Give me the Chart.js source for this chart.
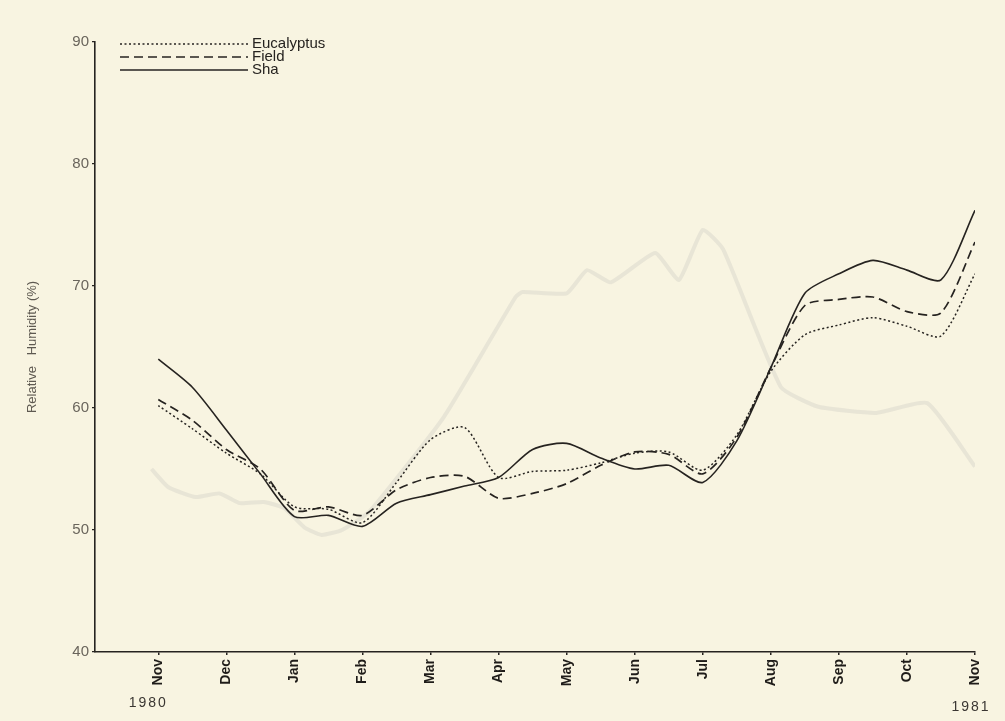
<!DOCTYPE html>
<html>
<head>
<meta charset="utf-8">
<script src="https://cdn.jsdelivr.net/npm/chart.js@4.4.1/dist/chart.umd.min.js"></script>
<style>
  html, body { margin: 0; padding: 0; background: #f8f4e1; }
  #wrap { width: 1005px; height: 721px; }
</style>
</head>
<body>
<div id="wrap"><canvas id="rh" width="1005" height="721"></canvas></div>
<script>
// Month ticks, Nov 1980 .. Nov 1981 (tick value = month index)
const monthLabels = ['Nov', 'Dec', 'Jan', 'Feb', 'Mar', 'Apr', 'May', 'Jun', 'Jul', 'Aug', 'Sep', 'Oct', 'Nov'];
const yearLabels = ['1980', '1981'];
const yTicks = [40, 50, 60, 70, 80, 90];

// Fortnightly readings (month index)
const sampleMonths = [0, 0.5, 1, 1.5, 2, 2.5, 3, 3.5, 4, 4.5, 5, 5.5, 6, 6.5, 7, 7.5, 8, 8.5, 9, 9.5, 10, 10.5, 11, 11.5, 12];

// Relative humidity (%)
const eucalyptus = [60.2, 58.3, 56.3, 54.6, 51.9, 51.7, 50.6, 53.9, 57.4, 58.4, 54.3, 54.8, 54.9, 55.5, 56.3, 56.4, 54.9, 57.8, 63.0, 66.0, 66.8, 67.4, 66.7, 65.9, 71.0];
const field      = [60.7, 59.0, 56.6, 55.0, 51.6, 51.9, 51.2, 53.3, 54.3, 54.4, 52.6, 53.0, 53.8, 55.3, 56.4, 56.2, 54.6, 57.6, 63.3, 68.4, 68.9, 69.1, 67.9, 67.8, 73.6];
const shade      = [64.0, 61.7, 58.2, 54.6, 51.1, 51.2, 50.3, 52.2, 52.9, 53.6, 54.3, 56.6, 57.1, 55.9, 55.0, 55.3, 53.9, 57.3, 63.3, 69.4, 71.0, 72.1, 71.3, 70.5, 76.2];

// Faint trace printed through from the other side of the sheet
const traceMonths = [-0.1, 0.15, 0.55, 0.9, 1.2, 1.55, 1.85, 2.15, 2.4, 2.7, 3.1, 4.2, 5.25, 5.35, 6, 6.3, 6.65, 7.3, 7.65, 8, 8.3, 9.15, 9.7, 10.55, 11.3, 12];
const traceValues = [55.0, 53.5, 52.7, 53.0, 52.2, 52.3, 51.8, 50.2, 49.6, 50.0, 51.5, 59.3, 69.1, 69.5, 69.4, 71.3, 70.3, 72.7, 70.5, 74.6, 73.0, 61.7, 60.1, 59.6, 60.4, 55.2];

const ink = '#262320';
const paper = '#f8f4e1';
const pair = (xs, ys) => xs.map((x, i) => ({ x: x, y: ys[i] }));

// Paper background
const paperPlugin = {
  id: 'paper',
  beforeDraw(chart) {
    const { ctx, width, height } = chart;
    ctx.save();
    ctx.fillStyle = paper;
    ctx.fillRect(0, 0, width, height);
    ctx.restore();
  }
};

// Stacked key in the upper-left corner of the plot
const keyPlugin = {
  id: 'key',
  afterDraw(chart) {
    const { ctx, chartArea } = chart;
    const x0 = chartArea.left + 25;
    const len = 128;
    let y = chartArea.top + 2;
    ctx.save();
    ctx.font = '15px "Liberation Sans", Arial, sans-serif';
    ctx.textBaseline = 'middle';
    ctx.fillStyle = ink;
    chart.data.datasets.forEach(ds => {
      if (!ds.inKey) return;
      ctx.strokeStyle = ds.borderColor;
      ctx.lineWidth = ds.borderWidth;
      ctx.setLineDash(ds.borderDash || []);
      ctx.beginPath();
      ctx.moveTo(x0, y);
      ctx.lineTo(x0 + len, y);
      ctx.stroke();
      ctx.setLineDash([]);
      ctx.fillText(ds.label, x0 + len + 4, y);
      y += 13;
    });
    ctx.restore();
  }
};

// Year captions under the first and last month ticks
const yearPlugin = {
  id: 'years',
  afterDraw(chart) {
    const { ctx } = chart;
    const xs = chart.scales.x;
    ctx.save();
    ctx.font = '14px "Liberation Sans", Arial, sans-serif';
    ctx.fillStyle = '#3a3632';
    ctx.textAlign = 'center';
    ctx.textBaseline = 'middle';
    if ('letterSpacing' in ctx) ctx.letterSpacing = '2px';
    ctx.fillText(yearLabels[0], xs.getPixelForValue(0) - 10, 703);
    ctx.fillText(yearLabels[1], xs.getPixelForValue(monthLabels.length - 1) - 4, 707);
    ctx.restore();
  }
};

new Chart(document.getElementById('rh'), {
  type: 'line',
  data: {
    datasets: [
      {
        label: 'Eucalyptus', inKey: true,
        data: pair(sampleMonths, eucalyptus),
        borderColor: ink, borderWidth: 1.5, borderDash: [2, 2.5],
        pointRadius: 0, tension: 0.25, order: 1
      },
      {
        label: 'Field', inKey: true,
        data: pair(sampleMonths, field),
        borderColor: ink, borderWidth: 1.7, borderDash: [9, 5],
        pointRadius: 0, tension: 0.25, order: 2
      },
      {
        label: 'Sha', inKey: true,
        data: pair(sampleMonths, shade),
        borderColor: ink, borderWidth: 1.6,
        pointRadius: 0, tension: 0.25, order: 3
      },
      {
        label: 'trace', inKey: false,
        data: pair(traceMonths, traceValues),
        borderColor: 'rgba(170,170,170,0.2)', borderWidth: 4,
        pointRadius: 0, tension: 0.15, order: 9
      }
    ]
  },
  options: {
    responsive: false,
    animation: false,
    events: [],
    layout: { padding: { top: 42, right: 30, left: 0, bottom: 0 } },
    plugins: { legend: { display: false }, tooltip: { enabled: false } },
    scales: {
      x: {
        type: 'linear',
        min: -0.93, max: 12,
        afterBuildTicks(scale) { scale.ticks = monthLabels.map((_, i) => ({ value: i })); },
        afterFit(scale) { scale.height = 69; },
        grid: { display: true, drawOnChartArea: false, drawTicks: true, tickLength: 3, color: ink, lineWidth: 1.5 },
        border: { display: true, color: ink, width: 1.6 },
        ticks: {
          autoSkip: false, maxRotation: 90, minRotation: 90, padding: 4,
          color: '#1f1c19',
          font: { family: '"Liberation Sans", Arial, sans-serif', size: 14, weight: 'bold' },
          callback: v => monthLabels[v]
        }
      },
      y: {
        type: 'linear',
        min: 40, max: 90,
        afterBuildTicks(scale) { scale.ticks = yTicks.map(v => ({ value: v })); },
        afterFit(scale) { scale.width = 95; },
        grid: { display: true, drawOnChartArea: false, drawTicks: true, tickLength: 3, color: ink, lineWidth: 1.2 },
        border: { display: true, color: ink, width: 1.6 },
        ticks: {
          padding: 3, color: '#6a655c',
          font: { family: '"Liberation Sans", Arial, sans-serif', size: 15 }
        },
        title: {
          display: true, text: 'Relative   Humidity (%)',
          color: '#5e5951', padding: { top: 25 },
          font: { family: '"Liberation Sans", Arial, sans-serif', size: 13 }
        }
      }
    }
  },
  plugins: [paperPlugin, keyPlugin, yearPlugin]
});
</script>
</body>
</html>
